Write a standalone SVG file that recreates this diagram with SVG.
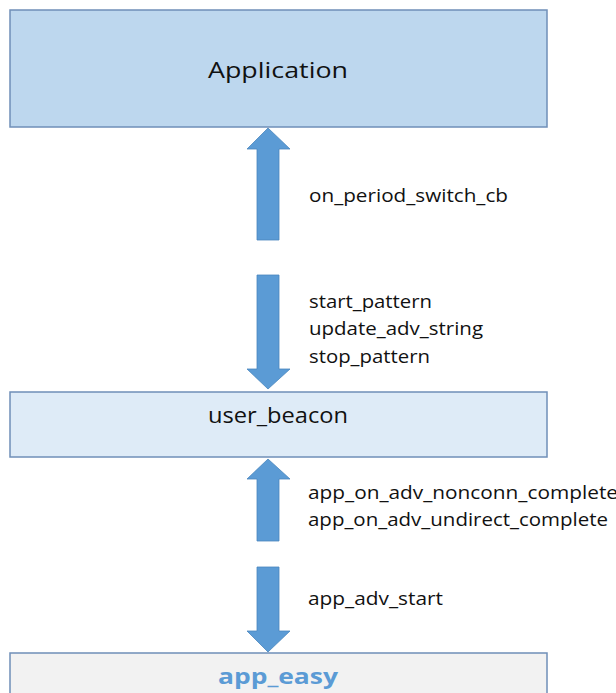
<svg xmlns="http://www.w3.org/2000/svg" width="616" height="693" viewBox="0 0 616 693">
<style>
.box{stroke:#6F8FB8;stroke-width:1.5}
.arrow{fill:#5B9BD5;stroke:#4A86BE;stroke-width:0.8}
.t{font-family:"Open Sans","Noto Sans",sans-serif;fill:#111}
.lbl{font-size:17.5px}
.big{font-size:22px;text-anchor:middle}
</style>
<rect x="0" y="0" width="616" height="693" fill="#ffffff"/>
<g id="application">
<rect class="box" x="10" y="10" width="537" height="117" fill="#BDD7EE"/>
<text class="t big" x="278" y="78" textLength="140" lengthAdjust="spacingAndGlyphs">Application</text>
</g>
<g id="user_beacon">
<rect class="box" x="10" y="392" width="537" height="65" fill="#DEEBF7"/>
<text class="t big" x="278" y="423" textLength="140" lengthAdjust="spacingAndGlyphs">user_beacon</text>
</g>
<g id="app_easy">
<rect class="box" x="10" y="653" width="537" height="60" fill="#F2F2F2"/>
<text class="t big" x="278" y="684" font-weight="bold" style="fill:#5B9BD5" textLength="120" lengthAdjust="spacingAndGlyphs">app_easy</text>
</g>
<g id="connectors">
<polygon class="arrow" points="268,128 290,149 279,149 279,240 257,240 257,149 247,149"/>
<polygon class="arrow" points="257,275 279,275 279,369 290,369 268,389 247,369 257,369"/>
<polygon class="arrow" points="268,459 290,479 279,479 279,541 257,541 257,479 247,479"/>
<polygon class="arrow" points="257,567 279,567 279,631 290,631 268,652 247,631 257,631"/>
<text class="t lbl" x="309" y="202" textLength="199" lengthAdjust="spacingAndGlyphs">on_period_switch_cb</text>
<text class="t lbl" x="309" y="308" textLength="123" lengthAdjust="spacingAndGlyphs">start_pattern</text>
<text class="t lbl" x="309" y="335" textLength="174" lengthAdjust="spacingAndGlyphs">update_adv_string</text>
<text class="t lbl" x="309" y="363" textLength="121" lengthAdjust="spacingAndGlyphs">stop_pattern</text>
<text class="t lbl" x="308" y="499" textLength="310" lengthAdjust="spacingAndGlyphs">app_on_adv_nonconn_complete</text>
<text class="t lbl" x="308" y="526" textLength="300" lengthAdjust="spacingAndGlyphs">app_on_adv_undirect_complete</text>
<text class="t lbl" x="308" y="605" textLength="135" lengthAdjust="spacingAndGlyphs">app_adv_start</text>
</g>
</svg>
